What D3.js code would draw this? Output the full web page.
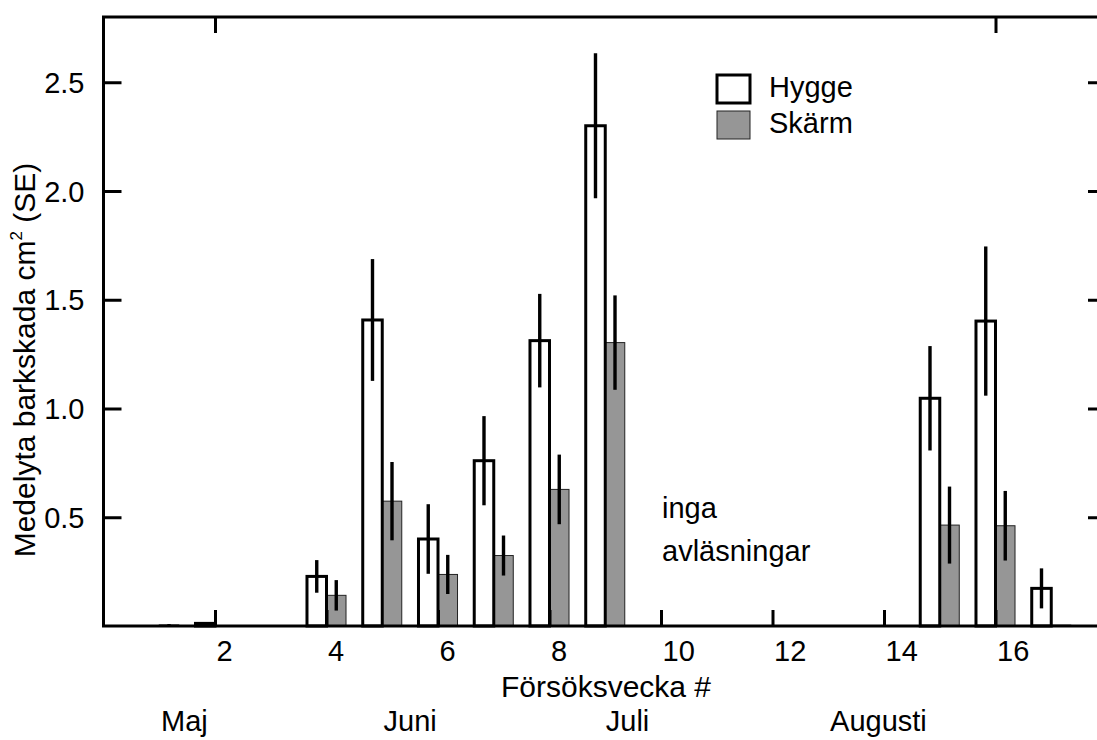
<!DOCTYPE html>
<html>
<head>
<meta charset="utf-8">
<script src="https://cdn.jsdelivr.net/npm/d3@7"></script>
<style>
    body { margin: 0; background: #fff; }
    text { font-family: "Liberation Sans", Arial, sans-serif; fill: #000; }
</style>
</head>
<body>
<div class="graph"></div>
<script>
// Mean bark damage per trial week, two treatments (null = no reading)
const weeks = [1, 2, 3, 4, 5, 6, 7, 8, 9, 10, 11, 12, 13, 14, 15, 16, 17];
const hygge = [0, 0.012, null, 0.228, 1.407, 0.40, 0.76, 1.312, 2.30, null, null, null, null, null, 1.047, 1.402, 0.173];
const hyggeSE = [0, 0, null, 0.075, 0.28, 0.16, 0.205, 0.215, 0.333, null, null, null, null, null, 0.24, 0.343, 0.092];
const skarm = [0.005, 0, null, 0.141, 0.574, 0.237, 0.324, 0.628, 1.303, null, null, null, null, null, 0.464, 0.461, 0.004];
const skarmSE = [0.004, 0, null, 0.07, 0.18, 0.09, 0.092, 0.16, 0.217, null, null, null, null, null, 0.177, 0.16, 0];

const seriesNames = ["Hygge", "Skärm"];
const yTicks = [0.5, 1.0, 1.5, 2.0, 2.5];
const xTicks = [2, 4, 6, 8, 10, 12, 14, 16];
const xTopTicks = [2, 16];
const months = ["Maj", "Juni", "Juli", "Augusti"];
const monthWeeks = [1.45, 5.5, 9.4, 13.9];
const noteLines = ["inga", "avläsningar"];
const noteWeek = 10;

function createBarChart() {
    const dimensions = {
        width: 1097,
        height: 740,
        margins: {
            top: 17,
            left: 103.5,
            bottom: 114,
            right: -10
        },
        barWidth: 0.35   // in weeks
    }
    dimensions.boundedWidth = dimensions.width
        - dimensions.margins.left
        - dimensions.margins.right;
    dimensions.boundedHeight = dimensions.height
        - dimensions.margins.top
        - dimensions.margins.bottom;

    const data = weeks.map((w, i) => ({
        week: w,
        hygge: hygge[i], hyggeSE: hyggeSE[i],
        skarm: skarm[i], skarmSE: skarmSE[i]
    }));

    const wrapper = d3.select(".graph")
        .append("svg")
            .attr("width", dimensions.width)
            .attr("height", dimensions.height);

    const bounds = wrapper.append("g")
            .attr("transform", `translate(${dimensions.margins.left},${dimensions.margins.top})`);

    const xScale = d3.scaleLinear()
        .domain([0, 18])
        .range([0, dimensions.boundedWidth]);

    const yScale = d3.scaleLinear()
        .domain([0, 2.8])
        .range([dimensions.boundedHeight, 0]);

    const bw = xScale(dimensions.barWidth) - xScale(0);

    // Skärm bars (right of the week mark)
    const skData = data.filter(d => d.skarm !== null);
    bounds.append("g")
        .selectAll("rect")
        .data(skData)
        .join("rect")
            .attr("x", d => xScale(d.week))
            .attr("y", d => yScale(d.skarm))
            .attr("width", bw)
            .attr("height", d => yScale(0) - yScale(d.skarm))
            .attr("fill", "#969696")
            .attr("stroke", "#222")
            .attr("stroke-width", 1);

    // Hygge bars (left of the week mark)
    const hyData = data.filter(d => d.hygge !== null);
    bounds.append("g")
        .selectAll("rect")
        .data(hyData)
        .join("rect")
            .attr("x", d => xScale(d.week) - bw)
            .attr("y", d => yScale(d.hygge))
            .attr("width", bw)
            .attr("height", d => yScale(0) - yScale(d.hygge))
            .attr("fill", "#fff")
            .attr("stroke", "#000")
            .attr("stroke-width", 3);

    // Error bars
    const errG = bounds.append("g")
            .attr("stroke", "#000")
            .attr("stroke-width", 3.4);
    errG.selectAll("line.sk")
        .data(skData.filter(d => d.skarmSE > 0))
        .join("line")
            .attr("class", "sk")
            .attr("x1", d => xScale(d.week) + bw / 2)
            .attr("x2", d => xScale(d.week) + bw / 2)
            .attr("y1", d => yScale(d.skarm - d.skarmSE))
            .attr("y2", d => yScale(d.skarm + d.skarmSE));
    errG.selectAll("line.hy")
        .data(hyData.filter(d => d.hyggeSE > 0))
        .join("line")
            .attr("class", "hy")
            .attr("x1", d => xScale(d.week) - bw / 2)
            .attr("x2", d => xScale(d.week) - bw / 2)
            .attr("y1", d => yScale(Math.max(0, d.hygge - d.hyggeSE)))
            .attr("y2", d => yScale(d.hygge + d.hyggeSE));

    // Frame
    bounds.append("rect")
        .attr("width", dimensions.boundedWidth)
        .attr("height", dimensions.boundedHeight)
        .attr("fill", "none")
        .attr("stroke", "#000")
        .attr("stroke-width", 3);

    // Axes, ticks pointing inwards
    const yAxis = bounds.append("g")
        .call(d3.axisLeft(yScale)
            .tickValues(yTicks)
            .tickFormat(d3.format(".1f"))
            .tickSizeInner(-18)
            .tickSizeOuter(0)
            .tickPadding(19));
    const yAxisRight = bounds.append("g")
        .attr("transform", `translate(${dimensions.boundedWidth},0)`)
        .call(d3.axisRight(yScale)
            .tickValues(yTicks)
            .tickFormat("")
            .tickSizeInner(-19)
            .tickSizeOuter(0));
    const xAxis = bounds.append("g")
        .attr("transform", `translate(0,${dimensions.boundedHeight})`)
        .call(d3.axisBottom(xScale)
            .tickValues(xTicks)
            .tickFormat(d3.format("d"))
            .tickSizeInner(-16)
            .tickSizeOuter(0));
    const xAxisTop = bounds.append("g")
        .call(d3.axisTop(xScale)
            .tickValues(xTopTicks)
            .tickFormat("")
            .tickSizeInner(-16)
            .tickSizeOuter(0));

    [yAxis, yAxisRight, xAxis, xAxisTop].forEach(a => {
        a.select(".domain").remove();
        a.selectAll(".tick line").attr("stroke-width", 3);
        a.selectAll("text")
            .attr("font-size", 29)
            .attr("font-family", null);
    });
    xAxis.selectAll(".tick text")
        .attr("text-anchor", "start")
        .attr("x", 1)
        .attr("dy", null)
        .attr("y", 35);
    yAxis.selectAll(".tick text").attr("dy", "0.35em");

    // Axis titles
    wrapper.append("text")
        .attr("x", 606)
        .attr("y", 697)
        .attr("text-anchor", "middle")
        .attr("font-size", 30)
        .text("Försöksvecka #");

    const yTitle = wrapper.append("text")
        .attr("transform", "translate(35,360) rotate(-90)")
        .attr("text-anchor", "middle")
        .attr("font-size", 30);
    yTitle.append("tspan").text("Medelyta barkskada cm");
    yTitle.append("tspan").attr("font-size", 17).attr("dy", -13).text("2");
    yTitle.append("tspan").attr("dy", 13).text(" (SE)");

    // Month labels
    wrapper.append("g")
        .selectAll("text")
        .data(months)
        .join("text")
            .attr("x", (d, i) => dimensions.margins.left + xScale(monthWeeks[i]))
            .attr("y", 731)
            .attr("text-anchor", "middle")
            .attr("font-size", 29)
            .text(d => d);

    // Note about missing readings
    bounds.append("g")
        .selectAll("text")
        .data(noteLines)
        .join("text")
            .attr("x", xScale(noteWeek) + 1)
            .attr("y", (d, i) => 501 + i * 43)
            .attr("font-size", 29)
            .text(d => d);

    // Legend
    const legend = wrapper.append("g")
        .attr("transform", "translate(717,75)");
    const items = legend.selectAll("g")
        .data(seriesNames)
        .join("g")
            .attr("transform", (d, i) => `translate(0,${i * 36})`);
    items.append("rect")
        .attr("width", 33)
        .attr("height", 28)
        .attr("fill", (d, i) => i === 0 ? "#fff" : "#969696")
        .attr("stroke", (d, i) => i === 0 ? "#000" : "#222")
        .attr("stroke-width", (d, i) => i === 0 ? 3 : 1);
    items.append("text")
        .attr("x", 52)
        .attr("y", 22)
        .attr("font-size", 29)
        .text(d => d);
}

createBarChart();
</script>
</body>
</html>
